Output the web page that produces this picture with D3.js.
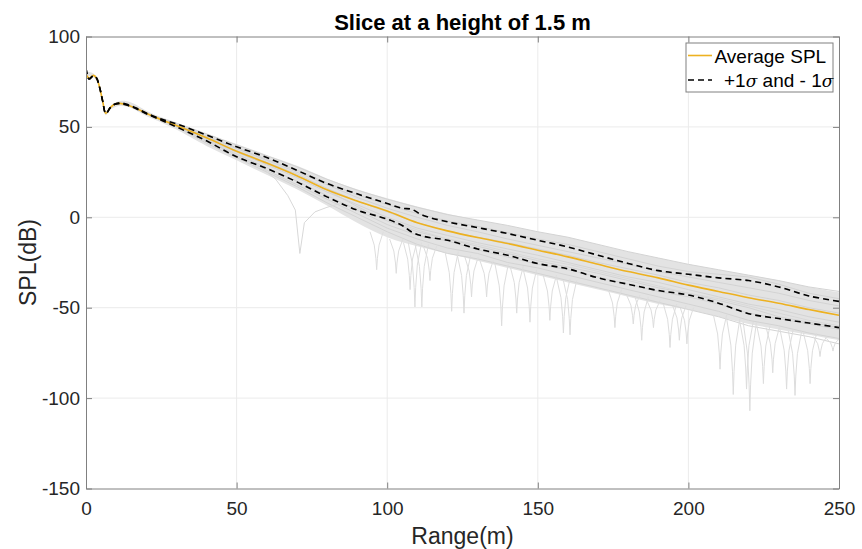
<!DOCTYPE html>
<html>
<head>
<meta charset="utf-8">
<script src="https://cdn.jsdelivr.net/npm/d3@7"></script>
<style>
  body { margin: 0; background: #fff; }
  svg text { font-family: "Liberation Sans", Arial, Helvetica, sans-serif; fill: #262626; }
</style>
</head>
<body>
<script>
const WIDTH = 862;
const HEIGHT = 549;
const M = { left: 86, top: 36.5, right: 23, bottom: 60.5 };
const W = WIDTH - M.left - M.right;
const H = HEIGHT - M.top - M.bottom;

// ticks
const xTicks = [0, 50, 100, 150, 200, 250];
const yTicks = [-150, -100, -50, 0, 50, 100];

// average SPL and +/- 1 sigma
const meanX = [0, 1, 2.5, 3.5, 4.5, 5.5, 6.6, 8, 9.5, 11.3, 14, 17, 20, 25, 30, 40, 50, 60, 70, 80, 90, 100, 110, 120, 130, 140, 150, 160, 170, 180, 190, 200, 210, 220, 230, 240, 250];
const meanY = [79, 77, 78.5, 77, 72, 64.5, 57.5, 60.5, 62.5, 63, 62, 60, 57.5, 54, 50.8, 44, 36.5, 30, 23, 15.2, 9, 3.5, -3, -7.5, -11.2, -14.5, -18.2, -21.9, -26, -30, -33.5, -37.5, -41, -44.5, -47.5, -51, -54.2];

const sigX = [0, 1, 2.5, 3.5, 4.5, 5.5, 6.6, 8, 9.5, 11.3, 14, 17, 20, 25, 30, 40, 50, 60, 70, 80, 90, 100, 105, 108, 112, 120, 130, 140, 150, 160, 170, 180, 190, 200, 210, 220, 230, 240, 250];
const upperY = [82.5, 76.5, 78.3, 77, 72, 64.5, 57.3, 60.5, 62.5, 63.3, 62.3, 60.2, 57.7, 54.3, 51.7, 45.5, 39, 33.1, 26, 18.7, 13, 7.6, 5, 4.5, 1, -2.5, -5.7, -9, -12.7, -16.4, -21, -25.5, -29.5, -31.5, -33.5, -35, -38.5, -43.5, -46.5];
const lowerY = [82.5, 76.5, 78.3, 77, 72, 64.5, 57.3, 60.5, 62.5, 62.8, 61.8, 59.8, 57.3, 53.7, 50, 42.3, 33.5, 27, 19.6, 11.3, 4, -1, -4.5, -8, -10.5, -12.7, -17.5, -21, -25.6, -28.5, -33.5, -37, -40.5, -43, -47.5, -53.3, -56, -58.5, -61];

// spread of the individual runs (dense grey bundle)
const bandX = [0, 2.5, 4.5, 6.6, 8, 11.3, 15, 20, 25, 30, 40, 50, 60, 70, 80, 90, 100, 110, 120, 130, 140, 150, 160, 170, 180, 190, 200, 210, 220, 230, 240, 250];
const bandTop = [80.5, 79.5, 73, 58.5, 61.5, 64.3, 63.5, 59, 55.3, 52.5, 46.5, 40.5, 34.5, 28.5, 21.5, 15.5, 10.5, 6, 2, -1.5, -4.5, -8, -11, -15, -19, -22.5, -26, -29, -32, -35, -38.5, -41.5];
const bandBot = [78, 77.5, 71, 56.5, 59.5, 61.7, 60.5, 56, 52.5, 48.5, 39.5, 31.5, 23.5, 15.5, 6.5, -3, -11, -16, -20, -24, -28, -32, -36, -40, -44, -48, -51, -55, -59, -62, -65, -68];

// individual runs, 20 m to 250 m every 10 m
const runX = [20, 30, 40, 50, 60, 70, 80, 90, 100, 110, 120, 130, 140, 150, 160, 170, 180, 190, 200, 210, 220, 230, 240, 250];
const run1 = [57.5, 52, 46, 40, 34, 28, 21, 15, 10, 5.5, 1.5, -1.5, -4.5, -8, -11, -15, -19, -22.5, -26, -29, -32, -35, -38.5, -41];
const run2 = [57.5, 51.5, 45, 38.5, 32, 26, 19, 12.5, 7, 2, -2, -5, -8.5, -12, -15, -19, -23, -27, -30, -31.5, -33, -37, -42, -45];
const run3 = [57.5, 51, 44, 37, 30.5, 24, 16, 9, 3, -3, -7.5, -11, -14, -17.5, -21, -25, -28.5, -32, -36, -39, -43, -46, -50, -53];
const run4 = [57.5, 50.5, 43, 36, 29, 22, 14, 7, 0, -6, -10, -14, -17.5, -21, -25, -29, -33, -36, -40, -44, -48, -51, -55, -58];
const run5 = [57.5, 50.5, 42, 35, 27.5, 20, 12, 4, -4, -10, -13, -18, -22, -26, -29, -33, -37, -41, -44, -48, -53, -56, -59, -62];
const run6 = [57.5, 50, 41, 33, 25, 17, 8, 0, -8, -15, -20, -23, -27, -31, -35, -39, -43, -47, -51, -55, -60, -63, -66, -70];
const run7 = [57.5, 51, 44.5, 38, 31.5, 25, 18, 11, 5, 0, -4.5, -8, -12, -15.5, -19, -22.5, -26, -30, -33, -36, -39, -42, -46, -49];
const run8 = [57.5, 50.5, 43.5, 36.5, 29.5, 23, 15, 6, -2, -8, -12, -16, -20, -24, -27.5, -31, -35, -39, -42, -46, -50, -55, -58, -61];
const run9 = [57.5, 50, 42.5, 34, 26, 18, 10, 2, -6, -12, -17, -20, -25, -28, -32, -36, -40, -44, -48, -52, -57, -60, -64, -67];
const runs = [run1, run2, run3, run4, run5, run6, run7, run8, run9];

// the run that drops out near 70 m
const dipX = [20, 30, 40, 50, 58, 63, 67, 69.5, 71, 72.5, 76, 80, 85, 90, 100, 110, 120, 130, 140, 150, 160, 170, 180, 190, 200, 210, 220, 230, 240, 250];
const dipY = [57.5, 50.5, 43, 35, 28, 21, 12, 4, -20, -3, 3, 5.5, 8, 5, -1, -7, -12, -15, -19, -23, -26, -30, -34, -38, -42, -45, -49, -53, -57, -60];

// sharp nulls of single runs: [range, level above, bottom]
const notches = [
  [96.5, -8, -29], [103, -12, -31], [107.6, -14, -40], [109.2, -14, -49.6], [111.5, -15, -49.6],
  [114.2, -16, -35], [121.4, -19, -52], [125.5, -21, -53], [128, -22, -44], [133, -24, -44],
  [138, -26, -60], [143, -27, -53], [147.4, -29, -58], [154, -32, -57], [158.5, -34, -64],
  [160.7, -35, -65], [175.6, -40, -61], [181.7, -43, -59], [184.5, -44, -68], [188.4, -46, -61],
  [193.9, -48, -72], [197, -49, -68], [199.5, -50, -70], [210.5, -54, -84], [214.9, -56, -98],
  [219.3, -58, -95], [220.4, -58, -107], [224.9, -60, -92], [228, -61, -86], [232.6, -62, -95],
  [235.4, -63, -98.5], [240.4, -64, -92], [243.7, -66, -77], [248, -67, -74]
];

const svg = d3.select("body").append("svg")
  .attr("width", WIDTH)
  .attr("height", HEIGHT);

const x = d3.scaleLinear().domain([0, 250]).range([0, W]);
const y = d3.scaleLinear().domain([-150, 100]).range([H, 0]);

const g = svg.append("g").attr("transform", `translate(${M.left},${M.top})`);

svg.append("defs").append("clipPath").attr("id", "plot-clip")
  .append("rect").attr("width", W).attr("height", H);

// grid
g.append("g").selectAll("line.gx").data(xTicks.slice(1, -1)).enter().append("line")
  .attr("x1", d => x(d)).attr("x2", d => x(d))
  .attr("y1", 0).attr("y2", H)
  .attr("stroke", "#ebebeb").attr("stroke-width", 1);
g.append("g").selectAll("line.gy").data(yTicks.slice(1, -1)).enter().append("line")
  .attr("x1", 0).attr("x2", W)
  .attr("y1", d => y(d)).attr("y2", d => y(d))
  .attr("stroke", "#ebebeb").attr("stroke-width", 1);

const plot = g.append("g").attr("clip-path", "url(#plot-clip)");

// grey bundle
const band = d3.area()
  .x(d => x(d[0])).y0(d => y(d[2])).y1(d => y(d[1]))
  .curve(d3.curveCatmullRom);
plot.append("path")
  .datum(bandX.map((v, i) => [v, bandTop[i], bandBot[i]]))
  .attr("d", band)
  .attr("fill", "#e3e3e3");

const line = d3.line().x(d => x(d[0])).y(d => y(d[1]));
const smooth = d3.line().x(d => x(d[0])).y(d => y(d[1])).curve(d3.curveCatmullRom);

plot.selectAll("path.run").data(runs).enter().append("path")
  .attr("class", "run")
  .attr("d", r => line(runX.map((v, i) => [v, r[i]])))
  .attr("fill", "none").attr("stroke", "#d3d3d3").attr("stroke-width", 1);

plot.append("path")
  .attr("d", line(dipX.map((v, i) => [v, dipY[i]])))
  .attr("fill", "none").attr("stroke", "#d8d8d8").attr("stroke-width", 1);

// each null drawn as a narrow cusp
plot.selectAll("path.notch").data(notches).enter().append("path")
  .attr("class", "notch")
  .attr("d", n => {
    const depth = n[2] - n[1];
    return line([
      [n[0] - 2.2, n[1]], [n[0] - 0.8, n[1] + depth * 0.35], [n[0] - 0.25, n[1] + depth * 0.7],
      [n[0], n[2]],
      [n[0] + 0.25, n[1] + depth * 0.7], [n[0] + 0.8, n[1] + depth * 0.35], [n[0] + 2.2, n[1]]
    ]);
  })
  .attr("fill", "none").attr("stroke", "#dddddd").attr("stroke-width", 1);

// average and sigma
plot.append("path")
  .attr("d", smooth(meanX.map((v, i) => [v, meanY[i]])))
  .attr("fill", "none").attr("stroke", "#EDB120").attr("stroke-width", 1.6);

[upperY, lowerY].forEach(s => {
  plot.append("path")
    .attr("d", smooth(sigX.map((v, i) => [v, s[i]])))
    .attr("fill", "none").attr("stroke", "#000").attr("stroke-width", 1.6)
    .attr("stroke-dasharray", "6,4");
});

// axes, ticks pointing inward on all four sides
const axisColor = "#808080";
const fmt = d => String(d);
const styleAxis = sel => {
  sel.select(".domain").attr("stroke", axisColor);
  sel.selectAll(".tick line").attr("stroke", axisColor);
  sel.selectAll("text").attr("font-size", "19px").attr("fill", "#262626")
    .attr("font-family", '"Liberation Sans", Arial, sans-serif');
};

g.append("g").attr("transform", `translate(0,${H})`)
  .call(d3.axisBottom(x).tickValues(xTicks).tickFormat(fmt).tickSize(-6).tickSizeOuter(0).tickPadding(13))
  .call(styleAxis);
g.append("g")
  .call(d3.axisTop(x).tickValues(xTicks).tickSize(-6).tickSizeOuter(0).tickFormat(""))
  .call(styleAxis);
g.append("g")
  .call(d3.axisLeft(y).tickValues(yTicks).tickFormat(fmt).tickSize(-6).tickSizeOuter(0).tickPadding(6))
  .call(styleAxis);
g.append("g").attr("transform", `translate(${W},0)`)
  .call(d3.axisRight(y).tickValues(yTicks).tickSize(-6).tickSizeOuter(0).tickFormat(""))
  .call(styleAxis);

// labels
svg.append("text")
  .attr("x", M.left + W / 2).attr("y", 30)
  .attr("text-anchor", "middle")
  .attr("font-size", "22px").attr("font-weight", "bold")
  .style("fill", "#000")
  .text("Slice at a height of 1.5 m");

svg.append("text")
  .attr("x", M.left + W / 2).attr("y", 544)
  .attr("text-anchor", "middle")
  .attr("font-size", "23px")
  .text("Range(m)");

svg.append("text")
  .attr("transform", `translate(36,${M.top + H / 2}) rotate(-90)`)
  .attr("text-anchor", "middle")
  .attr("font-size", "23px")
  .text("SPL(dB)");

// legend
const lg = svg.append("g").attr("transform", "translate(686,43)");
lg.append("rect")
  .attr("width", 147).attr("height", 49)
  .attr("fill", "#fff").attr("stroke", axisColor).attr("stroke-width", 1);
lg.append("line")
  .attr("x1", 2).attr("x2", 26).attr("y1", 12.5).attr("y2", 12.5)
  .attr("stroke", "#EDB120").attr("stroke-width", 1.6);
lg.append("text").attr("x", 28.5).attr("y", 20)
  .attr("font-size", "19px").style("fill", "#000")
  .text("Average SPL");
lg.append("line")
  .attr("x1", 2).attr("x2", 26).attr("y1", 37).attr("y2", 37)
  .attr("stroke", "#000").attr("stroke-width", 1.6)
  .attr("stroke-dasharray", "6,4");
const t2 = lg.append("text").attr("x", 38).attr("y", 43.5)
  .attr("font-size", "19px").style("fill", "#000");
t2.append("tspan").text("+1");
t2.append("tspan").attr("font-style", "italic").attr("font-family", '"DejaVu Serif", serif').attr("font-size", "17px").text("σ");
t2.append("tspan").text(" and - 1");
t2.append("tspan").attr("font-style", "italic").attr("font-family", '"DejaVu Serif", serif').attr("font-size", "17px").text("σ");
</script>
</body>
</html>
